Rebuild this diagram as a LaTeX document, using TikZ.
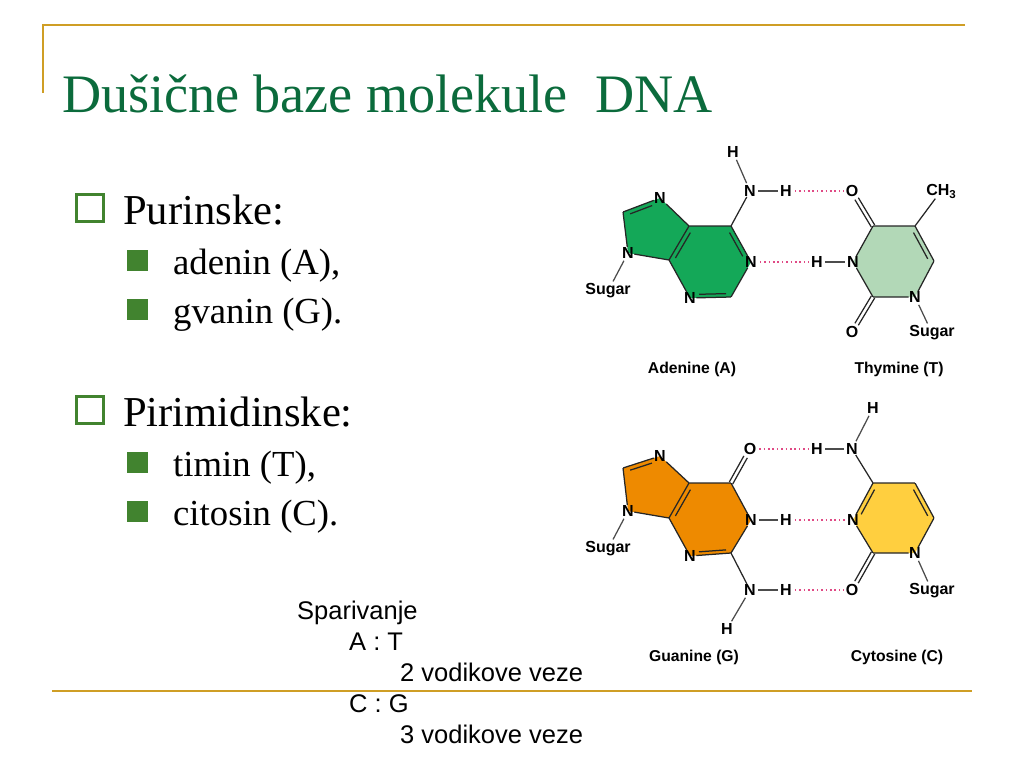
\documentclass[tikz,border=0pt]{standalone}
\usepackage{fontspec}
\setmainfont{Liberation Serif}
\newfontfamily\lsans{Liberation Sans}
\usetikzlibrary{backgrounds}
\definecolor{frameline}{HTML}{CF9E25}
\definecolor{titlegreen}{HTML}{0B6B3C}
\definecolor{bulletgreen}{HTML}{41832F}
\definecolor{adeninefill}{HTML}{14A858}
\definecolor{thyminefill}{HTML}{B2D8B7}
\definecolor{guaninefill}{HTML}{EE8A00}
\definecolor{cytosinefill}{HTML}{FFCF3F}
\definecolor{hbond}{HTML}{E04A85}
\tikzset{
  x=1pt,y=-1pt,
  frame/.style={frameline,line width=2.4pt},
  titletext/.style={anchor=base west,inner sep=0pt,text=titlegreen,font=\fontsize{54.2}{60}\selectfont},
  headtext/.style={anchor=base west,inner sep=0pt,font=\fontsize{42.6}{48}\selectfont},
  itemtext/.style={anchor=base west,inner sep=0pt,font=\fontsize{36.7}{42}\selectfont},
  notetext/.style={anchor=base west,inner sep=0pt,text=black,font=\lsans\fontsize{25.5}{30}\selectfont},
  openbullet/.style={draw=bulletgreen,line width=3pt,fill=white,minimum size=27pt,inner sep=0pt},
  solidbullet/.style={fill=bulletgreen,minimum size=21pt,inner sep=0pt},
  atom/.style={inner sep=0.3pt,font=\lsans\bfseries\fontsize{16}{18}\selectfont},
  caption/.style={inner sep=0pt,font=\lsans\bfseries\fontsize{15.7}{18}\selectfont},
  corner/.style={inner sep=0pt,minimum size=0pt},
  bond/.style={line width=1.25pt,black!85},
  nhbond/.style={bond,black!70,shorten <=2pt,shorten >=2pt},
  hdots/.style={hbond,line width=1.6pt,dash pattern=on 1.6pt off 2.8pt,shorten <=2.5pt,shorten >=2pt},
}
\newcommand{\inbond}[5]{\draw[bond,shorten <=#4pt,shorten >=#5pt] ([shift={(#3)}]#1.center) -- ([shift={(#3)}]#2.center);}
\newcommand{\outbond}[4]{%
  \draw[bond,shorten >=9pt] ([shift={(#3,#4)}]#1.center) -- ([shift={(#3,#4)}]#2.center);
  \draw[bond,shorten >=9pt] ([shift={(-#3,-#4)}]#1.center) -- ([shift={(-#3,-#4)}]#2.center);}
\begin{document}
\begin{tikzpicture}
\useasboundingbox (0,0) rectangle (1024,768);
% frame
\coordinate (ftl) at (43,25); \coordinate (ftr) at (965,25); \coordinate (fbl) at (43,93);
\coordinate (gl) at (52,691); \coordinate (gr) at (972,691);
\draw[frame] (ftr) -- (ftl) -- (fbl);
% title and list
\node[titletext] (title) at (62,112) {Dušične baze molekule\ \ DNA};
\node[openbullet] (b1) at (89.5,208) {};
\node[headtext] (t1) at (123,224) {Purinske:};
\node[solidbullet] (b2) at (137.5,260.5) {};
\node[itemtext] (t2) at (173,274) {adenin (A),};
\node[solidbullet] (b3) at (137.5,309.5) {};
\node[itemtext] (t3) at (173,323) {gvanin (G).};
\node[openbullet] (b4) at (89.5,410) {};
\node[headtext] (t4) at (123,426) {Pirimidinske:};
\node[solidbullet] (b5) at (137.5,462.5) {};
\node[itemtext] (t5) at (173,476) {timin (T),};
\node[solidbullet] (b6) at (137.5,511.5) {};
\node[itemtext] (t6) at (173,525) {citosin (C).};
% note
\node[notetext] (n1) at (297,619) {Sparivanje};
\node[notetext] (n2) at (349,650) {A : T};
\node[notetext] (n3) at (400,681) {2 vodikove veze};
\node[notetext] (n4) at (349,712) {C : G};
\node[notetext] (n5) at (400,743) {3 vodikove veze};
\draw[frame] (gl) -- (gr);
% ------- Adenine
\node[atom] (aNt) at (660,198) {N};
\node[corner] (aTL) at (623,212) {};
\node[atom] (aNl) at (628,253) {N};
\node[corner] (aJt) at (689,226) {};
\node[corner] (aJb) at (669,260) {};
\node[corner] (aC6) at (731,226) {};
\node[atom] (aNr) at (751,262) {N};
\node[corner] (aC2) at (731,297) {};
\node[atom] (aNb) at (690,298) {N};
\node[atom] (aN6) at (750,191) {N};
\node[atom] (aH6) at (786,191) {H};
\node[atom] (aHt) at (733,152) {H};
\node[atom] (aS) at (608,291) {Sugar};
\begin{scope}[on background layer]
\fill[adeninefill] (aNt.center) -- (aTL.center) -- (aNl.center) -- (aJb.center) -- (aNb.center) -- (aC2.center) -- (aNr.center) -- (aC6.center) -- (aJt.center) -- cycle;
\end{scope}
\draw[bond] (aNt) -- (aTL) -- (aNl);
\draw[bond] (aNl) -- (aJb) -- (aJt) -- (aNt);
\draw[bond] (aJt) -- (aC6) -- (aNr) -- (aC2) -- (aNb) -- (aJb);
\inbond{aTL}{aNt}{1.5,4}{6}{10}
\inbond{aJt}{aJb}{3.9,2.3}{5}{5}
\inbond{aC6}{aNr}{-3.9,2.2}{5}{9}
\inbond{aNb}{aC2}{0,-3.5}{9}{5}
\draw[bond] (aC6) -- (aN6);
\draw[nhbond] (aN6) -- (aH6);
\draw[nhbond] (aN6) -- (aHt);
\draw[nhbond] (aNl) -- (aS);
\node[caption] (aCap) at (692,369) {Adenine (A)};
% ------- Thymine
\node[corner] (tC4) at (873,226) {};
\node[corner] (tC5) at (915,226) {};
\node[corner] (tC6) at (934,261) {};
\node[atom] (tN1) at (915,297) {N};
\node[corner] (tC2) at (873,297) {};
\node[atom] (tN3) at (853,262) {N};
\node[atom] (tH3) at (817,262) {H};
\node[atom] (tOt) at (852,191) {O};
\node[atom] (tOb) at (852,332) {O};
\node[atom] (tCH) at (941,191) {CH\raisebox{-3pt}{\fontsize{11.5}{12}\selectfont 3}};
\node[atom] (tS) at (932,333) {Sugar};
\begin{scope}[on background layer]
\fill[thyminefill] (tC4.center) -- (tC5.center) -- (tC6.center) -- (tN1.center) -- (tC2.center) -- (tN3.center) -- cycle;
\end{scope}
\draw[bond] (tC4) -- (tC5) -- (tC6) -- (tN1) -- (tC2) -- (tN3) -- (tC4);
\inbond{tC5}{tC6}{-3.9,2.2}{5}{5}
\outbond{tC4}{tOt}{1.7}{-1}
\outbond{tC2}{tOb}{1.7}{1}
\draw[bond] (tC5) -- (tCH);
\draw[nhbond] (tN3) -- (tH3);
\draw[nhbond] (tN1) -- (tS);
\node[caption] (tCap) at (899,369) {Thymine (T)};
\draw[hdots] (aH6) -- (tOt);
\draw[hdots] (aNr) -- (tH3);
% ------- Guanine
\node[atom] (gNt) at (660,456) {N};
\node[corner] (gTL) at (623,468) {};
\node[atom] (gNl) at (628,511) {N};
\node[corner] (gJt) at (689,483) {};
\node[corner] (gJb) at (669,518) {};
\node[corner] (gC6) at (731,483) {};
\node[atom] (gNr) at (751,520) {N};
\node[corner] (gC2) at (731,553) {};
\node[atom] (gNb) at (690,556) {N};
\node[atom] (gO) at (750,449) {O};
\node[atom] (gHr) at (786,520) {H};
\node[atom] (gN2) at (750,590) {N};
\node[atom] (gH2) at (786,590) {H};
\node[atom] (gHb) at (727,629) {H};
\node[atom] (gS) at (608,549) {Sugar};
\begin{scope}[on background layer]
\fill[guaninefill] (gNt.center) -- (gTL.center) -- (gNl.center) -- (gJb.center) -- (gNb.center) -- (gC2.center) -- (gNr.center) -- (gC6.center) -- (gJt.center) -- cycle;
\end{scope}
\draw[bond] (gNt) -- (gTL) -- (gNl);
\draw[bond] (gNl) -- (gJb) -- (gJt) -- (gNt);
\draw[bond] (gJt) -- (gC6) -- (gNr) -- (gC2) -- (gNb) -- (gJb);
\inbond{gTL}{gNt}{1.5,4}{6}{10}
\inbond{gJt}{gJb}{3.9,2.3}{5}{5}
\inbond{gNb}{gC2}{0,-3.5}{9}{5}
\outbond{gC6}{gO}{1.7}{1}
\draw[nhbond] (gNr) -- (gHr);
\draw[bond] (gC2) -- (gN2);
\draw[nhbond] (gN2) -- (gH2);
\draw[nhbond] (gN2) -- (gHb);
\draw[nhbond] (gNl) -- (gS);
\node[caption] (gCap) at (694,657) {Guanine (G)};
% ------- Cytosine
\node[corner] (cC4) at (873,483) {};
\node[corner] (cC5) at (915,483) {};
\node[corner] (cC6) at (934,518) {};
\node[atom] (cN1) at (915,553) {N};
\node[corner] (cC2) at (873,553) {};
\node[atom] (cN3) at (853,520) {N};
\node[atom] (cN4) at (852,449) {N};
\node[atom] (cHl) at (817,449) {H};
\node[atom] (cHt) at (873,408) {H};
\node[atom] (cO) at (852,590) {O};
\node[atom] (cS) at (932,591) {Sugar};
\begin{scope}[on background layer]
\fill[cytosinefill] (cC4.center) -- (cC5.center) -- (cC6.center) -- (cN1.center) -- (cC2.center) -- (cN3.center) -- cycle;
\end{scope}
\draw[bond] (cC4) -- (cC5) -- (cC6) -- (cN1) -- (cC2) -- (cN3) -- (cC4);
\inbond{cC4}{cN3}{3.9,2.2}{5}{9}
\inbond{cC5}{cC6}{-3.9,2.2}{5}{5}
\outbond{cC2}{cO}{1.7}{1}
\draw[bond] (cC4) -- (cN4);
\draw[nhbond] (cN4) -- (cHl);
\draw[nhbond] (cN4) -- (cHt);
\draw[nhbond] (cN1) -- (cS);
\node[caption] (cCap) at (897,657) {Cytosine (C)};
\draw[hdots] (gO) -- (cHl);
\draw[hdots] (gHr) -- (cN3);
\draw[hdots] (gH2) -- (cO);
\end{tikzpicture}
\end{document}
